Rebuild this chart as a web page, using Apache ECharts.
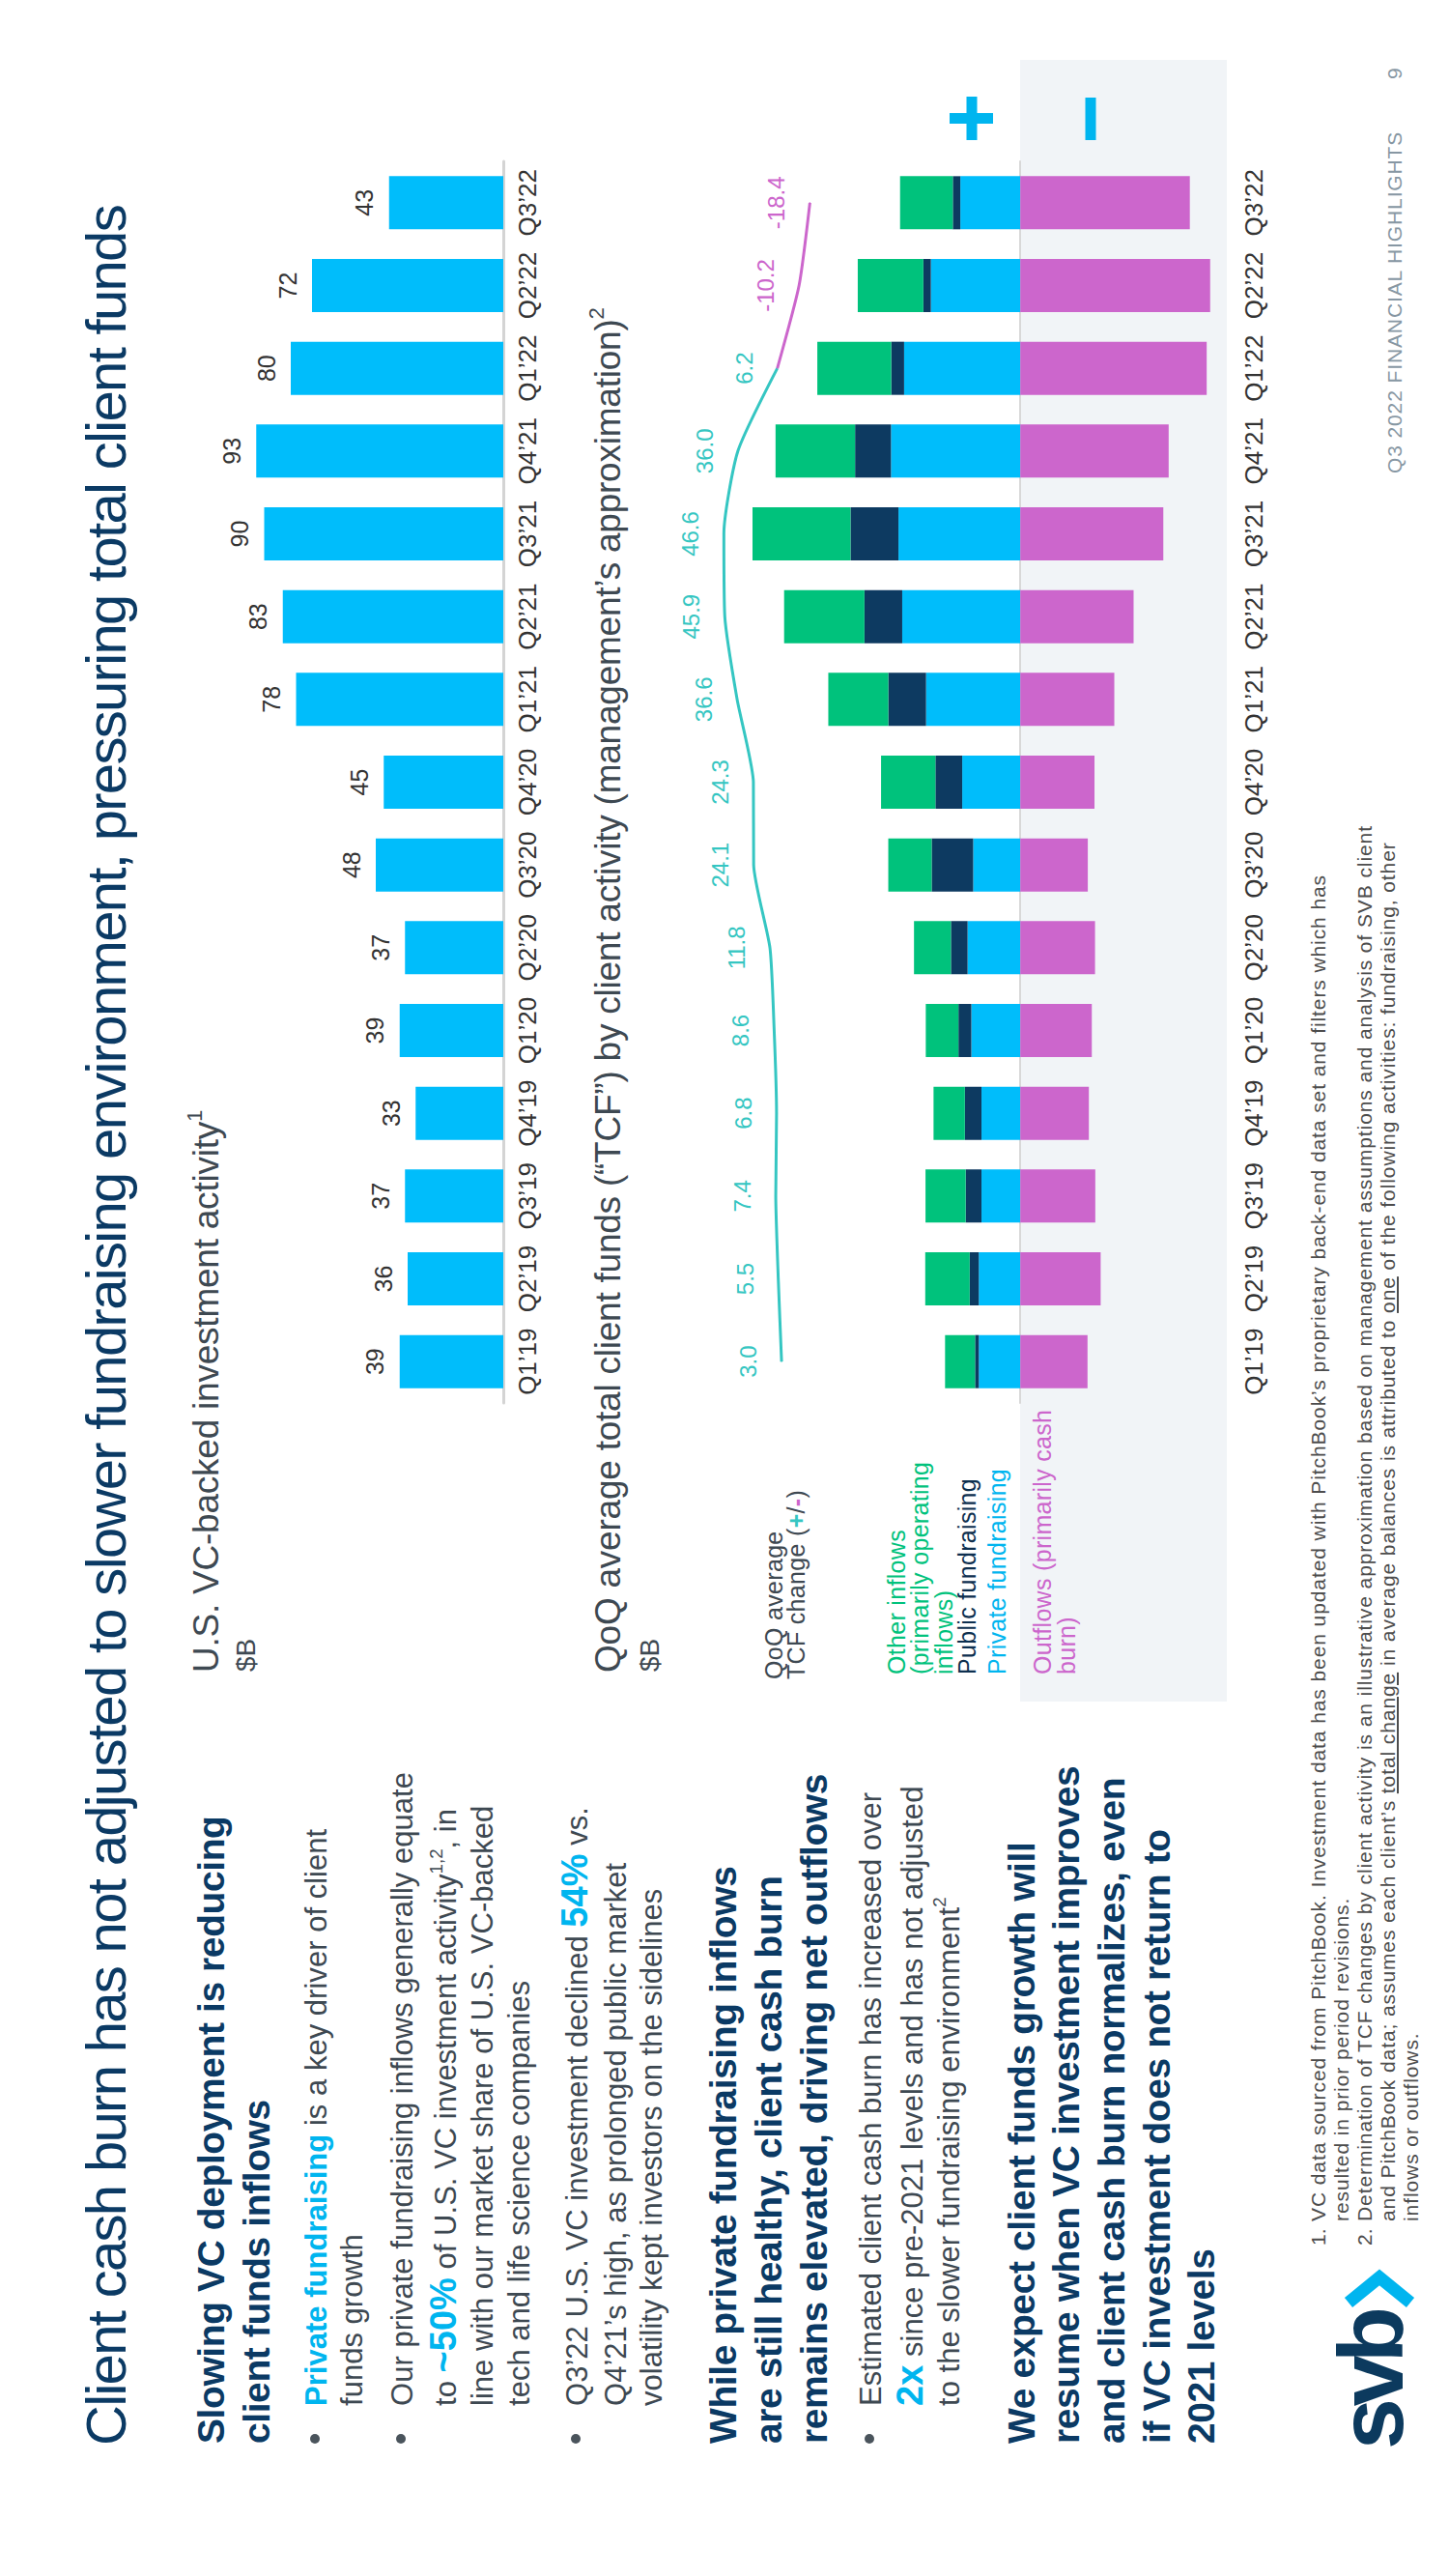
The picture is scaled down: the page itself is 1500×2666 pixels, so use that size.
<!DOCTYPE html>
<html><head><meta charset="utf-8">
<script src="https://cdn.jsdelivr.net/npm/echarts@6/dist/echarts.min.js"></script>
<style>
html,body{margin:0;padding:0;background:#fff;width:1500px;height:2666px;overflow:hidden}
#slide{position:absolute;left:0;top:0;width:2666px;height:1500px;transform-origin:0 0;transform:translate(0px,2666px) rotate(-90deg);background:#fff;font-family:'Liberation Sans',Arial,Helvetica,sans-serif;}
#chart{position:absolute;left:0;top:0;width:2666px;height:1500px}
.t{position:absolute;white-space:nowrap}
.hl{color:#00b5ef;font-weight:bold}
.big{font-size:38px;line-height:0}
sup{font-size:60%;line-height:0;vertical-align:0;position:relative;top:-0.75em}
.dot{position:absolute;width:10px;height:10px;border-radius:50%;background:#4a545c}
</style></head>
<body><div id="slide"><div id="chart"></div></div>
<script>
// ---------------- DATA ----------------
const quarters = ['Q1’19','Q2’19','Q3’19','Q4’19','Q1’20','Q2’20','Q3’20','Q4’20','Q1’21','Q2’21','Q3’21','Q4’21','Q1’22','Q2’22','Q3’22'];
const vcInvestment = [39,36,37,33,39,37,48,45,78,83,90,93,80,72,43];
const privateFundraising = [15.5,15.5,14.5,14.5,18.3,19.7,17.6,21.7,35.2,44.1,45.5,48.3,43.4,33.4,22.4];
const publicFundraising  = [1.4,3.4,5.9,6.2,4.8,6.2,15.5,10.0,14.1,14.1,17.9,13.4,4.8,2.8,2.8];
const otherInflows       = [11.2,16.6,15.0,11.7,12.2,13.8,16.2,20.3,22.4,30.0,36.6,29.7,27.6,24.5,19.7];
const outflows           = [-25.1,-30.0,-28.0,-25.6,-26.7,-27.9,-25.2,-27.7,-35.1,-42.3,-53.4,-55.4,-69.6,-70.9,-63.3];
const tcfChange          = [3.0,5.5,7.4,6.8,8.6,11.8,24.1,24.3,36.6,45.9,46.6,36.0,6.2,-10.2,-18.4];

// ---------------- STYLE ----------------
const FF = "'Liberation Sans', Arial, Helvetica, sans-serif";
const NAVY = '#0b3a64', BODY = '#3e4952', BLUE = '#00b5ef', BAR_BLUE = '#00bdfb',
      GREEN = '#00c27c', DARK = '#0d3a61', PURPLE = '#cc66cc', TEAL = '#35c6c2', GRAYBG = '#f1f4f7';

const slide = document.getElementById('slide');
const cv = document.createElement('canvas').getContext('2d');
function fitLS(text, font, target){ cv.font = font; const w = cv.measureText(text).width; return Math.max(-4, Math.min(3, (target - w) / text.length)); }

const LS = {
  title: fitLS('Client cash burn has not adjusted to slower fundraising environment, pressuring total client funds', "58px " + FF, 2318),
  head: fitLS('remains elevated, driving net outflows', "bold 39px " + FF, 693),
  body: fitLS('Our private fundraising inflows generally equate', "31px " + FF, 656),
  ctitle: fitLS('U.S. VC-backed investment activity', "37px " + FF, 570),
  foot: fitLS('VC data sourced from PitchBook. Investment data has been updated with PitchBook’s proprietary back-end data set and filters which has', "21px " + FF, 1394),
  footer: fitLS('Q3 2022 FINANCIAL HIGHLIGHTS', "21px " + FF, 355),
  legend: fitLS('Other inflows', "25px " + FF, 150)
};

function line(x, base, size, html, color, weight, ls){
  const d = document.createElement('div');
  d.className = 't';
  const L = size * 1.2;
  d.style.left = x + 'px';
  d.style.top = (base - (L/2 + 0.3465*size)) + 'px';
  d.style.fontSize = size + 'px';
  d.style.lineHeight = L + 'px';
  d.style.color = color;
  d.style.fontWeight = weight || 'normal';
  d.style.letterSpacing = (ls || 0) + 'px';
  d.innerHTML = html;
  slide.appendChild(d);
}
function dot(x, y){ const d = document.createElement('div'); d.className='dot'; d.style.left=(x-5)+'px'; d.style.top=(y-5)+'px'; slide.appendChild(d); }

// Title
line(135, 130, 58, 'Client cash burn has not adjusted to slower fundraising environment, pressuring total client funds', NAVY, 'normal', LS.title);
// Left column
line(137, 233, 39, 'Slowing VC deployment is reducing', NAVY, 'bold', LS.head);
line(137, 280, 39, 'client funds inflows', NAVY, 'bold', LS.head);
dot(142, 326); dot(142, 415); dot(142, 596); dot(142, 900);
line(176, 338, 31, '<span class="hl">Private fundraising</span> is a key driver of client', BODY, 'normal', LS.body);
line(176, 375, 31, 'funds growth', BODY, 'normal', LS.body);
line(176, 427, 31, 'Our private fundraising inflows generally equate', BODY, 'normal', LS.body);
line(176, 472, 31, 'to <span class="hl big">~50%</span> of U.S. VC investment activity<sup>1,2</sup>, in', BODY, 'normal', LS.body);
line(176, 510, 31, 'line with our market share of U.S. VC-backed', BODY, 'normal', LS.body);
line(176, 548, 31, 'tech and life science companies', BODY, 'normal', LS.body);
line(176, 608, 31, 'Q3’22 U.S. VC investment declined <span class="hl big">54%</span> vs.', BODY, 'normal', LS.body);
line(176, 648, 31, 'Q4’21’s high, as prolonged public market', BODY, 'normal', LS.body);
line(176, 685, 31, 'volatility kept investors on the sidelines', BODY, 'normal', LS.body);
line(137, 763, 39, 'While private fundraising inflows', NAVY, 'bold', LS.head);
line(137, 810, 39, 'are still healthy, client cash burn', NAVY, 'bold', LS.head);
line(137, 857, 39, 'remains elevated, driving net outflows', NAVY, 'bold', LS.head);
line(176, 912, 31, 'Estimated client cash burn has increased over', BODY, 'normal', LS.body);
line(176, 955, 31, '<span class="hl big">2x</span> since pre-2021 levels and has not adjusted', BODY, 'normal', LS.body);
line(176, 993, 31, 'to the slower fundraising environment<sup>2</sup>', BODY, 'normal', LS.body);
line(137, 1072, 39, 'We expect client funds growth will', NAVY, 'bold', LS.head);
line(137, 1118, 39, 'resume when VC investment improves', NAVY, 'bold', LS.head);
line(137, 1165, 39, 'and client cash burn normalizes, even', NAVY, 'bold', LS.head);
line(137, 1212, 39, 'if VC investment does not return to', NAVY, 'bold', LS.head);
line(137, 1258, 39, '2021 levels', NAVY, 'bold', LS.head);
// Chart titles
line(935, 227, 37, 'U.S. VC-backed investment activity<sup>1</sup>', BODY, 'normal', LS.ctitle);
line(936, 265, 28, '$B', BODY, 'normal', 0);
line(935, 643, 37, 'QoQ average total client funds (“TCF”) by client activity (management’s approximation)<sup>2</sup>', BODY, 'normal', LS.ctitle);
line(936, 683, 28, '$B', BODY, 'normal', 0);
// Legend
line(928, 810, 25, 'QoQ average', BODY, 'normal', LS.legend);
line(928, 833, 25, 'TCF change (<b style="color:'+TEAL+'">+</b>/<b style="color:'+PURPLE+'">-</b>)', BODY, 'normal', LS.legend);
line(933, 937, 25, 'Other inflows', GREEN, 'normal', LS.legend);
line(933, 961, 25, '(primarily operating', GREEN, 'normal', LS.legend);
line(933, 986, 25, 'inflows)', GREEN, 'normal', LS.legend);
line(933, 1010, 25, 'Public fundraising', '#0d2f4f', 'normal', LS.legend);
line(933, 1041, 25, 'Private fundraising', BLUE, 'normal', LS.legend);
line(933, 1088, 25, 'Outflows (primarily cash', PURPLE, 'normal', LS.legend);
line(933, 1113, 25, 'burn)', PURPLE, 'normal', LS.legend);
// Footnotes
const FN = '#4d4d4d';
line(342, 1372, 21, '1.', FN, 'normal', 0);
line(367, 1372, 21, 'VC data sourced from PitchBook. Investment data has been updated with PitchBook’s proprietary back-end data set and filters which has', FN, 'normal', LS.foot);
line(367, 1396, 21, 'resulted in prior period revisions.', FN, 'normal', LS.foot);
line(342, 1420, 21, '2.', FN, 'normal', 0);
line(367, 1420, 21, 'Determination of TCF changes by client activity is an illustrative approximation based on management assumptions and analysis of SVB client', FN, 'normal', LS.foot);
line(367, 1444, 21, 'and PitchBook data; assumes each client’s <u>total change</u> in average balances is attributed to <u>one</u> of the following activities: fundraising, other', FN, 'normal', LS.foot);
line(367, 1468, 21, 'inflows or outflows.', FN, 'normal', LS.foot);
// Footer
line(2176, 1451, 21, 'Q3 2022 FINANCIAL HIGHLIGHTS', '#8797a3', 'normal', LS.footer);
line(2584, 1451, 21, '9', '#8797a3', 'normal', 0);
// Logo text
line(131, 1452, 95, 'svb', '#0c3a5e', 'bold', -8);

// ---------------- CHART ----------------
const chart = echarts.init(document.getElementById('chart'), null, {renderer: 'svg'});
const catAxisHidden = (gi) => ({type:'category', gridIndex:gi, data:quarters, axisLine:{show:false}, axisTick:{show:false}, axisLabel:{show:false}, splitLine:{show:false}});
const tealData = tcfChange.map((v,i) => i <= 12 ? v : '-');
const purpleData = tcfChange.map((v,i) => i >= 12 ? v : '-');

const option = {
  animation: false,
  textStyle: {fontFamily: FF},
  graphic: [
    {type:'rect', z:0, silent:true, shape:{x:905, y:1056, width:1699, height:214}, style:{fill:GRAYBG}},
    {type:'rect', z:10, silent:true, shape:{x:2521, y:1000.5, width:45, height:11}, style:{fill:BLUE}},
    {type:'rect', z:10, silent:true, shape:{x:2538, y:983, width:11, height:45}, style:{fill:BLUE}},
    {type:'rect', z:10, silent:true, shape:{x:2521, y:1123.5, width:44, height:11}, style:{fill:BLUE}},
    {type:'polyline', z:10, silent:true, shape:{points:[[283,1396],[309,1428],[283,1460]]}, style:{stroke:BLUE, lineWidth:13, fill:null, lineJoin:'miter'}}
  ],
  grid: [
    {left:1214, top:246, width:1285, height:275, outerBoundsMode:'none'},
    {left:1214, top:779, width:1285, height:499, outerBoundsMode:'none'},
    {left:1214, top:731, width:1285, height:123.3, outerBoundsMode:'none'}
  ],
  xAxis: [
    {type:'category', gridIndex:0, data:quarters, axisLine:{show:true, lineStyle:{color:'#d4d4d4', width:3}}, axisTick:{show:false},
     axisLabel:{show:true, interval:0, fontSize:26, color:'#333', margin:12, fontFamily:FF}, splitLine:{show:false}},
    {type:'category', gridIndex:1, data:quarters, axisLine:{show:true, onZero:true, lineStyle:{color:'#d8d8d8', width:2}}, axisTick:{show:false}, axisLabel:{show:false}, splitLine:{show:false}},
    {type:'category', gridIndex:1, data:quarters, position:'bottom', axisLine:{show:false, onZero:false}, axisTick:{show:false},
     axisLabel:{show:true, interval:0, fontSize:26, color:'#333', margin:7, fontFamily:FF}, splitLine:{show:false}},
    catAxisHidden(2)
  ],
  yAxis: [
    {type:'value', gridIndex:0, min:0, max:100, show:false},
    {type:'value', gridIndex:1, min:-80, max:100, show:false},
    {type:'value', gridIndex:2, min:-30, max:60, show:false}
  ],
  series: [
    {name:'U.S. VC-backed investment', type:'bar', xAxisIndex:0, yAxisIndex:0, data:vcInvestment, barWidth:55,
     itemStyle:{color:BAR_BLUE}, label:{show:true, position:'top', distance:13, fontSize:25, color:'#333', fontFamily:FF}},
    {name:'Private fundraising', type:'bar', stack:'tcf', xAxisIndex:1, yAxisIndex:1, data:privateFundraising, barWidth:55, itemStyle:{color:BAR_BLUE}},
    {name:'Public fundraising', type:'bar', stack:'tcf', xAxisIndex:1, yAxisIndex:1, data:publicFundraising, barWidth:55, itemStyle:{color:DARK}},
    {name:'Other inflows', type:'bar', stack:'tcf', xAxisIndex:1, yAxisIndex:1, data:otherInflows, barWidth:55, itemStyle:{color:GREEN}},
    {name:'Outflows', type:'bar', stack:'tcf', xAxisIndex:1, yAxisIndex:1, data:outflows, barWidth:55, itemStyle:{color:PURPLE}},
    {name:'QoQ TCF change (+)', type:'line', xAxisIndex:3, yAxisIndex:2, data:tealData, smooth:0.2, symbol:'circle', symbolSize:1, showSymbol:true, z:5,
     lineStyle:{color:TEAL, width:3}, itemStyle:{color:TEAL},
     label:{show:true, position:'top', distance:22, fontSize:24, color:TEAL, fontFamily:FF, formatter:p => (typeof p.value === 'number' ? p.value.toFixed(1) : '')}},
    {name:'QoQ TCF change (-)', type:'line', xAxisIndex:3, yAxisIndex:2, data:purpleData, smooth:0.2, symbol:'circle', symbolSize:1, showSymbol:true, z:5,
     lineStyle:{color:PURPLE, width:3}, itemStyle:{color:PURPLE},
     label:{show:true, position:'top', distance:22, fontSize:24, color:PURPLE, fontFamily:FF, formatter:p => (p.dataIndex > 12 && typeof p.value === 'number' ? p.value.toFixed(1) : '')}}
  ]
};
chart.setOption(option);
</script></body></html>
